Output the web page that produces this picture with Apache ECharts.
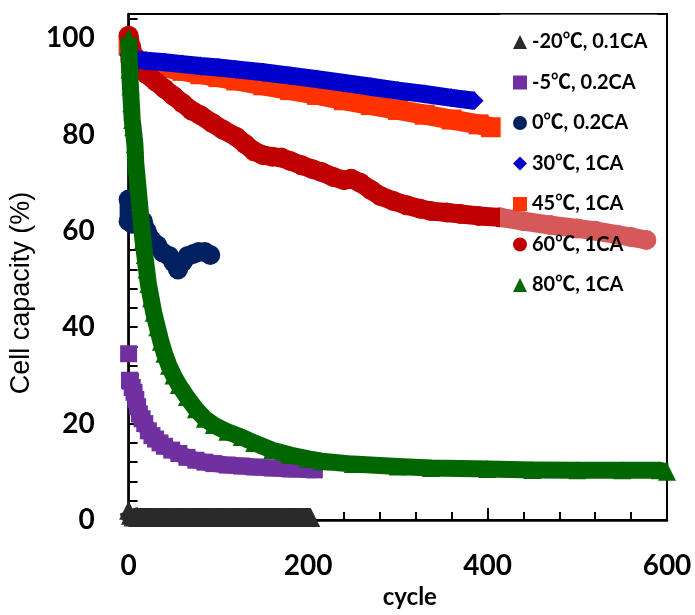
<!DOCTYPE html>
<html><head><meta charset="utf-8">
<script src="https://cdn.jsdelivr.net/npm/echarts@6/dist/echarts.min.js"></script>
<style>html,body{margin:0;padding:0;background:#fff}#c{width:695px;height:615px}</style>
</head><body><div id="c"></div>
<script>
// ---- data ----
const seriesNames = ['-20℃, 0.1CA', '-5℃, 0.2CA', '0℃, 0.2CA', '30℃, 1CA', '45℃, 1CA', '60℃, 1CA', '80℃, 1CA'];
const xTickLabels = [0, 200, 400, 600];
const yTickLabels = [0, 20, 40, 60, 80, 100];

const cycM20 = [0, 2, 5, 10, 20, 40, 60, 80, 100, 120, 140, 160, 180, 200, 203];
const capM20 = [2.0, 1.0, 0.6, 0.5, 0.5, 0.5, 0.5, 0.5, 0.5, 0.5, 0.5, 0.5, 0.5, 0.5, 0.5];

const cycM5 = [0, 0, 1, 2, 4, 6, 8, 10, 12, 15, 18, 22, 26, 30, 35, 40, 48, 56, 65, 75, 85, 95, 110, 126, 140, 160, 180, 200, 207];
const capM5 = [34.5, null, 29.0, 28.8, 27.5, 26.5, 25.0, 23.5, 22.0, 21.0, 20.0, 18.5, 17.5, 16.8, 16.0, 15.3, 14.5, 13.8, 13.0, 12.4, 12.0, 11.7, 11.4, 11.2, 11.0, 10.8, 10.6, 10.5, 10.4];

const cyc0 = [0, 0, 4, 10, 16, 20, 26, 32, 38, 45, 50, 55, 60, 66, 72, 78, 85, 91];
const cap0 = [66.5, 62, 61.5, 62.5, 62, 60, 58, 57, 55.5, 54.8, 53.5, 52, 53.5, 54.8, 55.2, 55.6, 55.6, 55];

const cyc30 = [0, 2, 5, 10, 20, 40, 60, 80, 100, 120, 150, 180, 210, 240, 270, 300, 330, 360, 385];
const cap30 = [96.5, 95.8, 95.6, 95.5, 95.3, 95, 94.6, 94.2, 93.9, 93.5, 92.9, 92.2, 91.5, 90.7, 89.9, 89.1, 88.4, 87.6, 87];

const cyc45 = [0, 2, 5, 10, 20, 40, 60, 80, 100, 120, 150, 180, 210, 240, 270, 300, 330, 360, 390, 404];
const cap45 = [98.5, 97, 95.5, 95, 94.6, 93.9, 93.2, 92.5, 91.9, 91.2, 90.2, 89.2, 88.2, 87.1, 86.1, 85.1, 84.1, 83.1, 82.1, 81.5];

const cyc60 = [0, 3, 6, 10, 15, 20, 30, 40, 50, 60, 70, 80, 93, 105, 120, 130, 140, 150, 160, 170, 180, 193, 205, 215, 228, 240, 248, 258, 270, 281, 295, 310, 325, 337, 355, 370, 390, 414, 440, 470, 500, 520, 544, 560, 577];
const cap60 = [100.5, 98, 96, 94.5, 93.5, 92.5, 91, 89.5, 88, 86.5, 85, 84, 82.4, 81, 79.5, 78, 76.5, 75.7, 75.4, 75.2, 74.5, 73.6, 72.8, 72.2, 71.2, 70.5, 70.8, 70, 68.5, 67.2, 66.2, 65.3, 64.6, 64.1, 63.8, 63.5, 63.1, 62.8, 62, 61.2, 60.5, 60, 59.2, 58.7, 58.1];

const cyc80 = [0, 1, 2, 3, 4, 5, 7, 8, 10, 12, 14, 16, 18, 20, 22, 25, 28, 32, 36, 40, 45, 50, 56, 65, 75, 85, 95, 110, 126, 140, 160, 180, 200, 215, 250, 300, 337, 400, 450, 500, 550, 592, 600];
const cap80 = [100, 93.5, 90, 86.5, 83, 81.5, 78, 74, 70, 66, 62, 58, 55, 52, 49, 46, 43, 40, 37, 34.5, 32, 30, 28, 25.5, 23, 21, 19.7, 18.3, 17.2, 16, 14.5, 13.5, 12.7, 12.2, 11.6, 11.1, 10.8, 10.6, 10.4, 10.3, 10.3, 10.3, 10];

// ---- styling ----
const styles = [
  {x: cycM20, y: capM20, color: '#2a2a2a', symbol: 'triangle', size: 19, width: 19, cap: 'butt', z: 3},
  {x: cycM5,  y: capM5,  color: '#7030A0', symbol: 'rect',     size: 17, width: 17, cap: 'butt', z: 3},
  {x: cyc0,   y: cap0,   color: '#002060', symbol: 'circle',   size: 20, width: 18, cap: 'round', z: 3},
  {x: cyc30,  y: cap30,  color: '#0000CC', symbol: 'diamond',  size: 19, width: 18, cap: 'butt', z: 5},
  {x: cyc45,  y: cap45,  color: '#FF3300', symbol: 'rect',     size: 20, width: 20, cap: 'butt', z: 2},
  {x: cyc60,  y: cap60,  color: '#C00000', symbol: 'circle',   size: 20, width: 19, cap: 'round', z: 4},
  {x: cyc80,  y: cap80,  color: '#006600', symbol: 'triangle', size: 18, width: 17, cap: 'butt', z: 6}
];
const legendIcons = ['triangle', 'rect', 'circle', 'diamond', 'rect', 'circle', 'triangle'];

const chart = echarts.init(document.getElementById('c'), null, {renderer: 'canvas'});
const tickFont = {fontFamily: 'Lato, "Noto Sans", sans-serif', fontWeight: 'bold', fontSize: 28, color: '#000'};

chart.setOption({
  animation: false,
  backgroundColor: '#fff',
  grid: {left: 126, right: 28, top: 14, bottom: 95, show: true, borderColor: '#000', borderWidth: 2, backgroundColor: 'transparent'},
  legend: {
    orient: 'vertical', left: 500, top: 14, z: 10,
    padding: [18, 10, 8, 13],
    itemWidth: 14, itemHeight: 14, itemGap: 20.5,
    selectedMode: false,
    backgroundColor: 'rgba(255,255,255,0.35)',
    textStyle: {fontFamily: 'Lato, "Noto Sans CJK SC", sans-serif', fontWeight: 'bold', fontSize: 20, lineHeight: 20, color: '#000'},
    data: seriesNames.map((n, i) => ({name: n, icon: legendIcons[i]}))
  },
  xAxis: {
    type: 'value', min: 0, max: 600, interval: 200,
    axisLine: {show: true, onZero: false, lineStyle: {color: '#000', width: 2.5}},
    axisTick: {show: true, inside: true, length: 12, lineStyle: {color: '#000', width: 2}},
    minorTick: {show: true, splitNumber: 5, length: 8, lineStyle: {color: '#000', width: 2}},
    splitLine: {show: false},
    axisLabel: Object.assign({margin: 32, formatter: v => xTickLabels.includes(v) ? String(v) : ''}, tickFont),
    name: 'cycle', nameLocation: 'middle', nameGap: 65,
    nameTextStyle: {fontFamily: 'Lato, "Noto Sans", sans-serif', fontWeight: 'bold', fontSize: 24, color: '#000', padding: [0, 0, 0, 24]}
  },
  yAxis: {
    type: 'value', min: 0, max: 105, interval: 4,
    axisLine: {show: true, onZero: false, lineStyle: {color: '#000', width: 2.5}},
    axisTick: {show: true, inside: true, length: 9, lineStyle: {color: '#000', width: 2}},
    splitLine: {show: false},
    axisLabel: Object.assign({margin: 34, formatter: v => yTickLabels.includes(v) ? String(v) : ''}, tickFont),
    name: 'Cell capacity (%)', nameLocation: 'middle', nameRotate: 90, nameGap: 84,
    nameTextStyle: {fontFamily: '"Liberation Sans", Arial, sans-serif', fontSize: 27, color: '#000', padding: [0, 52, 0, 0]}
  },
  series: seriesNames.map((name, i) => {
    const s = styles[i];
    return {
      name: name, type: 'line', z: s.z, clip: false,
      symbol: s.symbol, symbolSize: s.size, showSymbol: true, showAllSymbol: true,
      connectNulls: false,
      itemStyle: {color: s.color, opacity: 1},
      lineStyle: {color: s.color, width: s.width, cap: s.cap, join: 'round'},
      emphasis: {disabled: true},
      data: s.x.map((x, j) => [x, s.y[j]])
    };
  })
});
</script>
</body></html>
